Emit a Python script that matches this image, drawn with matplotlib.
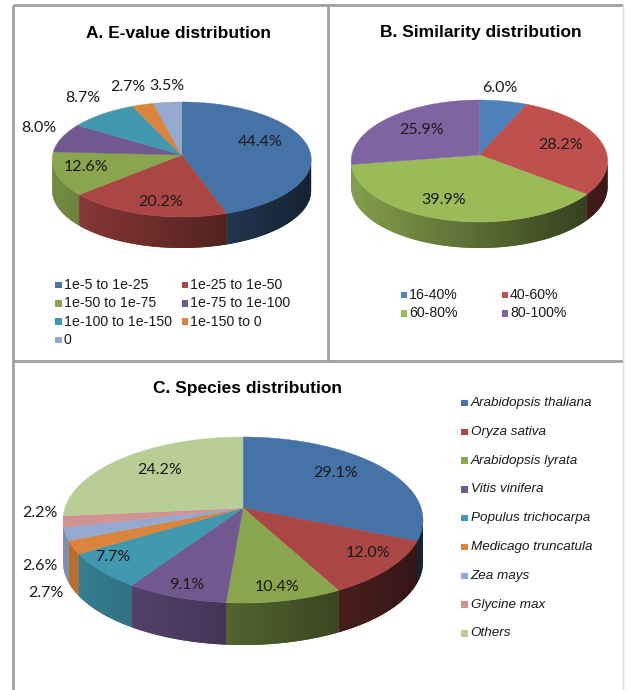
import matplotlib
matplotlib.use('Agg')
import matplotlib.pyplot as plt
import matplotlib.colors as mcolors
from matplotlib.patches import Polygon, Rectangle
import numpy as np

# data
evalue_labels = ['1e-5 to 1e-25', '1e-25 to 1e-50', '1e-50 to 1e-75', '1e-75 to 1e-100',
                 '1e-100 to 1e-150', '1e-150 to 0', '0']
evalue_pct = [44.4, 20.2, 12.6, 8.0, 8.7, 2.7, 3.5]

similarity_labels = ['16-40%', '40-60%', '60-80%', '80-100%']
similarity_pct = [6.0, 28.2, 39.9, 25.9]

species_labels = ['Arabidopsis thaliana', 'Oryza sativa', 'Arabidopsis lyrata', 'Vitis vinifera',
                  'Populus trichocarpa', 'Medicago truncatula', 'Zea mays', 'Glycine max', 'Others']
species_pct = [29.1, 12.0, 10.4, 9.1, 7.7, 2.7, 2.6, 2.2, 24.2]

office_dark = ['#4572A7', '#AA4643', '#89A54E', '#71588F', '#4198AF', '#DB843D',
               '#93A9CF', '#D19392', '#B9CD96']
office_bright = ['#4F81BD', '#C0504D', '#9BBB59', '#8064A2']

LABEL_FONT = 'Lato'
TEXT_FONT = 'Liberation Sans'


def shade(color, f):
    r, g, b = mcolors.to_rgb(color)
    return (r * f, g * f, b * f)


def ell(cx, cy, a, b, deg):
    t = np.radians(deg)
    return cx + a * np.cos(t), cy - b * np.sin(t)


def draw_pie3d(ax, values, colors, cx, cy, a, b, depth, lift):
    frac = np.cumsum([0] + list(values)) / sum(values)
    edges = 90 - 360 * frac          # clockwise from 12 o'clock
    # outer wall, only the front half is visible
    for i, col in enumerate(colors):
        s, e = max(edges[i + 1], -180), min(edges[i], 0)
        if s >= e:
            continue
        ts = np.linspace(s, e, 200)
        xs, ys = ell(cx, cy, a, b, ts)
        pts = list(zip(xs, ys)) + list(zip(xs[::-1], ys[::-1] + depth))
        xm = (np.cos(np.radians((s + e) / 2)) + 1) / 2
        wall = Polygon(pts, closed=True, facecolor=shade(col, 0.85 - 0.55 * xm),
                       edgecolor='none', zorder=1)
        ax.add_patch(wall)
        g = np.linspace(0, 1, 256)
        img = np.array([shade(col, 0.85 - 0.55 * v) for v in g])[None, :, :]
        im = ax.imshow(img, extent=(cx - a, cx + a, cy + b + depth + 1, cy - b - 1),
                       aspect='auto', interpolation='bilinear', zorder=1.1)
        im.set_clip_path(wall)
    # top face
    for i, col in enumerate(colors):
        ts = np.linspace(edges[i], edges[i + 1], 150)
        xs, ys = ell(cx, cy, a, b, ts)
        pts = [(cx, cy - lift)] + list(zip(xs, ys))
        ax.add_patch(Polygon(pts, closed=True, facecolor=col, edgecolor=col,
                             linewidth=0.3, zorder=2))
    return edges


def label_pie(ax, values, edges, cx, cy, a, b, small, nudges, fs=11.5):
    for i, v in enumerate(values):
        mid = (edges[i] + edges[i + 1]) / 2
        r = 1.2 if v < small else 0.72
        x, y = ell(cx, cy, a * r, b * r, mid)
        dx, dy = nudges.get(i, (0, 0))
        ax.text(x + dx, y + dy, f'{v:.1f}%', ha='center', va='center', zorder=3,
                fontsize=fs, family=LABEL_FONT, color='#1a1a1a')


def draw_legend(ax, labels, colors, x0, y0, ncol, dx, dy, fs, style='normal', sq=6.5, gap=2.0):
    for i, (lab, col) in enumerate(zip(labels, colors)):
        x = x0 + (i % ncol) * dx
        y = y0 + (i // ncol) * dy
        ax.add_patch(Rectangle((x, y - sq / 2), sq, sq, facecolor=col, edgecolor='none'))
        ax.text(x + sq + gap, y, lab, ha='left', va='center', fontsize=fs,
                family=TEXT_FONT, style=style, color='#1a1a1a')


fig = plt.figure(figsize=(6.26, 6.90), dpi=100)
ax = fig.add_axes([0, 0, 1, 1])

# panel frames
frame = dict(color='#a0a0a0', lw=2, solid_capstyle='butt')
ax.plot([13, 623], [5, 5], **frame)
ax.plot([13, 13], [5, 690], **frame)
ax.plot([328, 328], [5, 361], **frame)
ax.plot([13, 623], [361, 361], **frame)
ax.plot([623, 623], [5, 690], color='#dddddd', lw=1)

title_kw = dict(ha='center', va='center', fontsize=12.5, fontweight='bold', family=TEXT_FONT)

# A. E-value
ax.text(179, 33, 'A. E-value distribution', **title_kw)
ed = draw_pie3d(ax, evalue_pct, office_dark[:7], 181.7, 159.5, 129.5, 57.5, 31, 4.5)
label_pie(ax, evalue_pct, ed, 181.7, 159.5, 129.5, 57.5, 10,
          {0: (-13, -10), 1: (5, 3), 2: (-6, -3), 3: (1.5, -6), 4: (-3, -7), 5: (-7, -7), 6: (2, -5)})
draw_legend(ax, evalue_labels, office_dark[:7], 55, 285, 2, 126.7, 18.3, 10.2)

# B. Similarity
ax.text(481, 33, 'B. Similarity distribution', **title_kw)
ed = draw_pie3d(ax, similarity_pct, office_bright, 479.4, 161, 128.2, 61, 26, 6)
label_pie(ax, similarity_pct, ed, 479.4, 161, 128.2, 61, 10,
          {0: (-8, -1), 1: (-7, -3), 2: (-12, -3), 3: (9, -1)})
draw_legend(ax, similarity_labels, office_bright, 400.5, 295, 2, 101, 18.3, 10.2)

# C. Species
ax.text(247.5, 388, 'C. Species distribution', **title_kw)
ed = draw_pie3d(ax, species_pct, office_dark, 243, 520, 180, 83, 42, 12)
label_pie(ax, species_pct, ed, 243, 520, 180, 83, 5,
          {0: (-10.5, -10.5), 1: (21, -2), 2: (4, 9), 3: (-8, 10), 4: (-28, 0),
           5: (7, 40), 6: (10, 29), 7: (13, -9), 8: (6, -7)})
draw_legend(ax, species_labels, office_dark, 461, 403, 1, 0, 28.8, 9.7, style='italic', gap=3.2)

ax.set_xlim(0, 626)
ax.set_ylim(690, 0)
ax.axis('off')

fig.savefig('out.png', dpi=100)
